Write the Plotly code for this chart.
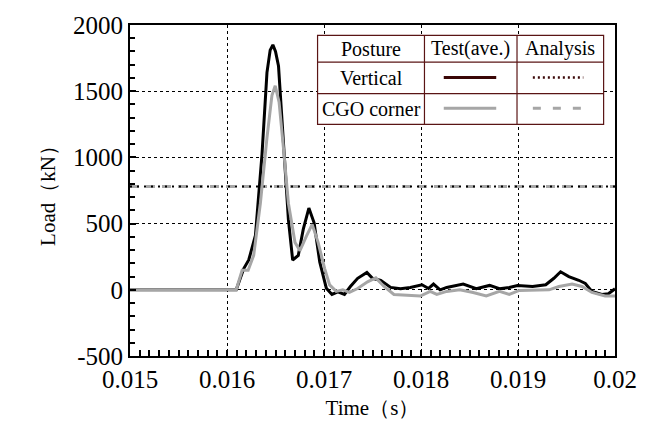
import plotly.graph_objects as go

# ---------------- data ----------------
t_vertical = [0.015, 0.016095, 0.016173, 0.016224, 0.016293, 0.016361, 0.016412, 0.016445, 0.016473,
              0.0165, 0.016531, 0.016582, 0.016633, 0.016677, 0.016735, 0.016786, 0.016844, 0.016898,
              0.016956, 0.017024, 0.017082, 0.017143, 0.017211, 0.017272, 0.017347, 0.017442,
              0.0175, 0.017585, 0.017687, 0.017789, 0.01789, 0.01801, 0.018078, 0.018129,
              0.018197, 0.018265, 0.018435, 0.01857, 0.018707, 0.018809, 0.01891, 0.018995,
              0.01915, 0.019286, 0.01937, 0.019439, 0.019524, 0.019626, 0.019694, 0.019762,
              0.019864, 0.019932, 0.02]
load_vertical = [0, 0, 160, 225, 410, 1024, 1640, 1810, 1850,
                 1800, 1690, 1148, 530, 225, 260, 456, 617, 506,
                 210, 12, -35, -15, -35, 25, 87, 131,
                 87, 72, 18, 8, 18, 38, 10, 43,
                 0, 18, 43, 8, 33, 8, 18, 33,
                 25, 38, 87, 136, 100, 72, 48, -12,
                 -35, -30, 8]

t_cgo = [0.015, 0.016095, 0.016156, 0.016218, 0.016275, 0.016344, 0.016412, 0.016463,
         0.016497, 0.016537, 0.016582, 0.016633, 0.016701, 0.016752, 0.01682, 0.016878,
         0.016939, 0.017007, 0.017058, 0.017126, 0.017194, 0.017262, 0.017347, 0.017449,
         0.017534, 0.017619, 0.017721, 0.017857, 0.017993, 0.018095, 0.018163, 0.018265,
         0.0184, 0.018537, 0.018673, 0.018809, 0.01891, 0.019013, 0.019184, 0.01932,
         0.019422, 0.019558, 0.01966, 0.019762, 0.019898, 0.02]
load_cgo = [0, 0, 148, 148, 260, 654, 1148, 1467,
            1541, 1417, 1072, 654, 358, 296, 407, 494,
            358, 160, 37, -12, 0, -20, 10, 60,
            90, 25, -35, -40, -47, -12, -35, -12,
            0, -20, -47, -12, -35, -5, -5, 0,
            25, 43, 25, -20, -47, -47]

analysis_vertical = 780
analysis_cgo = 780

x_ticks = [0.015, 0.016, 0.017, 0.018, 0.019, 0.02]
x_ticklabels = ["0.015", "0.016", "0.017", "0.018", "0.019", "0.02"]
y_ticks = [-500, 0, 500, 1000, 1500, 2000]
y_ticklabels = ["-500", "0", "500", "1000", "1500", "2000"]

legend_header = ["Posture", "Test(ave.)", "Analysis"]
legend_rows = ["Vertical", "CGO corner"]

BLACK = "#000000"
GRAY = "#a6a6a6"
MAROON = "#5a1414"
FONT = "Liberation Serif"

fig = go.Figure()

x_range = [x_ticks[0], x_ticks[-1]]
y_range = [y_ticks[0], y_ticks[-1]]

fig.add_trace(go.Scatter(x=x_range, y=[analysis_cgo] * 2, mode="lines",
                         line=dict(color=GRAY, width=3, dash="9px,7px"), showlegend=False))
fig.add_trace(go.Scatter(x=x_range, y=[analysis_vertical] * 2, mode="lines",
                         line=dict(color=BLACK, width=2, dash="2px,5px"), showlegend=False))
fig.add_trace(go.Scatter(x=t_vertical, y=load_vertical, mode="lines",
                         line=dict(color=BLACK, width=3), showlegend=False))
fig.add_trace(go.Scatter(x=t_cgo, y=load_cgo, mode="lines",
                         line=dict(color=GRAY, width=3), showlegend=False))

fig.update_xaxes(range=x_range, tickmode="array", tickvals=x_ticks, ticktext=x_ticklabels,
                 showline=True, linecolor="black", linewidth=2, mirror=True,
                 showgrid=True, gridcolor="black", gridwidth=1, griddash="dot", zeroline=False,
                 ticks="inside", ticklen=6, tickwidth=1.5, tickcolor="black",
                 minor=dict(tickmode="linear", tick0=0.015, dtick=0.0001, ticks="inside",
                            ticklen=6, tickwidth=1.5, tickcolor="black", showgrid=False),
                 tickfont=dict(family=FONT, size=25, color="black"),
                 title=dict(text="Time（s）", font=dict(family=FONT, size=21, color="black"), standoff=8))
fig.update_yaxes(range=y_range, tickmode="array", tickvals=y_ticks, ticktext=y_ticklabels,
                 showline=True, linecolor="black", linewidth=2, mirror=True,
                 showgrid=True, gridcolor="black", gridwidth=1, griddash="dot", zeroline=False,
                 ticks="inside", ticklen=6, tickwidth=1.5, tickcolor="black",
                 minor=dict(tickmode="linear", tick0=0, dtick=100, ticks="inside",
                            ticklen=5, tickwidth=1.5, tickcolor="black", showgrid=False),
                 ticksuffix="\u2002",
                 tickfont=dict(family=FONT, size=25, color="black"),
                 title=dict(text="Load（kN）", font=dict(family=FONT, size=21, color="black"), standoff=12))

# ---- table-style legend (paper coordinates) ----
W, H = 649, 432
L, R, T, B = 130, 29, 18, 76
pw, ph = W - L - R, H - T - B


def px(x):
    return (x - L) / pw


def py(y):
    return 1 - (y - T) / ph


tx0, tx1, tx2, tx3 = 319.5, 427.5, 521, 608.5
ty0, ty1, ty2, ty3 = 28.5, 56, 88, 119.5
shapes = []
shapes.append(dict(type="rect", xref="paper", yref="paper", x0=px(tx0), x1=px(tx3), y0=py(ty3), y1=py(ty0),
                   fillcolor="white", line=dict(color=MAROON, width=1.2), layer="above"))
for yy in (ty1, ty2):
    shapes.append(dict(type="line", xref="paper", yref="paper", x0=px(tx0), x1=px(tx3), y0=py(yy), y1=py(yy),
                       line=dict(color=MAROON, width=1.2), layer="above"))
for xx in (tx1, tx2):
    shapes.append(dict(type="line", xref="paper", yref="paper", x0=px(xx), x1=px(xx), y0=py(ty3), y1=py(ty0),
                       line=dict(color=MAROON, width=1.2), layer="above"))
sx0, sx1 = 447, 500
ax0, ax1 = 537, 588
r1, r2 = 71.5, 103
shapes.append(dict(type="line", xref="paper", yref="paper", x0=px(sx0), x1=px(sx1), y0=py(r1), y1=py(r1),
                   line=dict(color="#3a0606", width=3), layer="above"))
shapes.append(dict(type="line", xref="paper", yref="paper", x0=px(ax0), x1=px(ax1), y0=py(r1), y1=py(r1),
                   line=dict(color="#3a0606", width=2.5, dash="2px,3px"), layer="above"))
shapes.append(dict(type="line", xref="paper", yref="paper", x0=px(sx0), x1=px(sx1), y0=py(r2), y1=py(r2),
                   line=dict(color=GRAY, width=3), layer="above"))
shapes.append(dict(type="line", xref="paper", yref="paper", x0=px(ax0), x1=px(ax1), y0=py(r2), y1=py(r2),
                   line=dict(color=GRAY, width=3, dash="8px,12px"), layer="above"))

annotations = []
hdr_centers = [(tx0 + tx1) / 2, (tx1 + tx2) / 2, (tx2 + tx3) / 2]
for txt, cx in zip(legend_header, hdr_centers):
    annotations.append(dict(text=txt, xref="paper", yref="paper", x=px(cx), y=py((ty0 + ty1) / 2),
                            showarrow=False, font=dict(family=FONT, size=20, color="black"),
                            xanchor="center", yanchor="middle"))
for txt, yc in zip(legend_rows, [(ty1 + ty2) / 2, (ty2 + ty3) / 2]):
    annotations.append(dict(text=txt, xref="paper", yref="paper", x=px((tx0 + tx1) / 2), y=py(yc),
                            showarrow=False, font=dict(family=FONT, size=20, color="black"),
                            xanchor="center", yanchor="middle"))

fig.update_layout(
    width=W, height=H,
    margin=dict(l=L, r=R, t=T, b=B),
    paper_bgcolor="white", plot_bgcolor="white",
    shapes=shapes, annotations=annotations,
    showlegend=False,
)

fig.write_html("out.html")
